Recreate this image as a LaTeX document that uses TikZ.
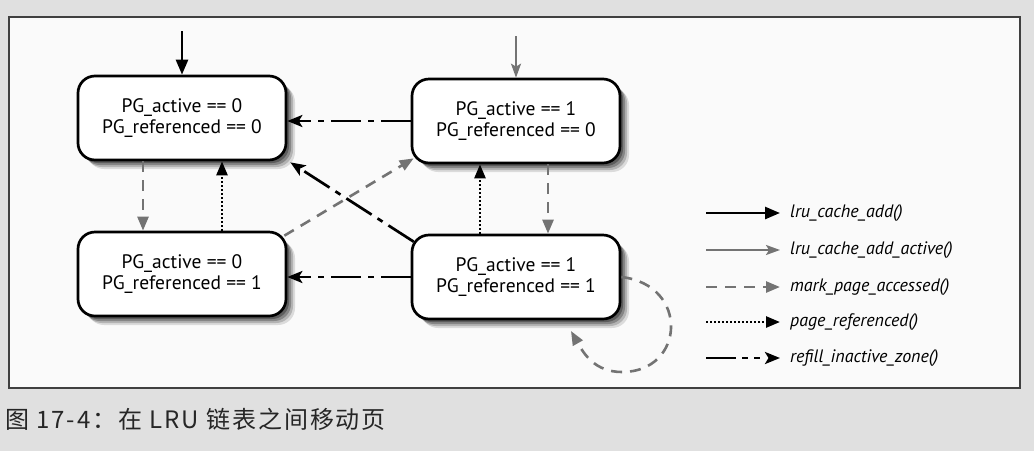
\documentclass[tikz,border=0pt]{standalone}
\usepackage{fontspec}
\setmainfont{PT Sans}
\newfontfamily\cjk{Noto Sans CJK SC}[LetterSpace=8]
\usetikzlibrary{arrows.meta,shadows}
\definecolor{midgray}{gray}{0.45}
\begin{document}
\begin{tikzpicture}[x=1pt,y=-1pt,
  pgstate/.style={draw=black, line width=2.7pt, rounded corners=17pt, fill=white,
    minimum width=208pt, minimum height=84pt, inner sep=0pt, align=center,
    font=\fontsize{19.5}{20.5}\selectfont,
    drop shadow={shadow xshift=9pt,shadow yshift=-9pt,fill=black,opacity=.12},
    drop shadow={shadow xshift=7pt,shadow yshift=-7pt,fill=black,opacity=.18},
    drop shadow={shadow xshift=5pt,shadow yshift=-5pt,fill=black,opacity=.25},
    drop shadow={shadow xshift=3pt,shadow yshift=-3pt,fill=black,opacity=.3}},
  blk/.style={line width=2.6pt, -{Triangle[length=15pt,width=12pt]}},
  gry/.style={line width=2pt, draw=midgray, -{Stealth[length=14pt,width=10pt,inset=3pt]}},
  gdash/.style={line width=2.6pt, draw=midgray, dash pattern=on 11pt off 8pt, -{Triangle[length=14pt,width=11pt]}},
  dotl/.style={line width=2.6pt, dash pattern=on 2pt off 2pt, -{Triangle[length=14pt,width=11pt]}},
  ddot/.style={line width=2.7pt, dash pattern=on 30pt off 7pt on 6pt off 7pt, -{Stealth[length=15pt,width=12pt,inset=3.5pt]}},
  ldd/.style={line width=2.7pt, dash pattern=on 30pt off 6pt on 6pt off 6pt on 6pt off 20pt, -{Stealth[length=15pt,width=12pt,inset=3.5pt]}},
  legtext/.style={anchor=west, inner sep=0pt, font=\itshape\fontsize{18}{18}\selectfont}]
% background and frame
\fill[black!12] (0,0) rectangle (1034,451);
\useasboundingbox (0,0) rectangle (1034,451);
\draw[line width=1.6pt, draw=black!75, fill=black!2] (9,17) rectangle (1020,388);
% states
\node[pgstate] (tl) at (182,118) {PG\_active == 0\\PG\_referenced == 0};
\node[pgstate] (tr) at (516,121) {PG\_active == 1\\PG\_referenced == 0};
\node[pgstate] (bl) at (182,274) {PG\_active == 0\\PG\_referenced == 1};
\node[pgstate] (br) at (516,277) {PG\_active == 1\\PG\_referenced == 1};
% incoming
\coordinate (intl) at (182,31);
\coordinate (intr) at (516,36);
\draw[blk] (intl) -- (tl.north);
\draw[gry] (intr) -- (tr.north);
% vertical
\draw[gdash] ([xshift=-39pt]tl.south) -- ([xshift=-39pt]bl.north);
\draw[dotl] ([xshift=40pt]bl.north) -- ([xshift=40pt]tl.south);
\draw[gdash] ([xshift=32pt]tr.south) -- ([xshift=32pt]br.north);
\draw[dotl] ([xshift=-36pt]br.north) -- ([xshift=-36pt]tr.south);
% horizontal
\draw[ddot] (tr.west) -- (tl.east |- tr.west);
\draw[ddot] (br.west) -- (bl.east |- br.west);
% diagonals
\draw[gdash] ([xshift=-3pt,yshift=-5pt]bl.north east) -- ([xshift=3pt,yshift=6pt]tr.south west);
\draw[ddot] ([xshift=3pt,yshift=-8pt]br.north west) -- ([xshift=3pt,yshift=-1pt]tl.south east);
% self loop
\coordinate (loopend) at (571,331);
\draw[gdash] (br.east) .. controls (690,285) and (685,372) .. (622,372)
  .. controls (595,372) and (584,354) .. (loopend);
% legend
\node[legtext] (l1) at (790,213) {lru\_cache\_add()};
\node[legtext] (l2) at (790,250) {lru\_cache\_add\_active()};
\node[legtext] (l3) at (790,287) {mark\_page\_accessed()};
\node[legtext] (l4) at (790,322) {page\_referenced()};
\node[legtext] (l5) at (790,358) {refill\_inactive\_zone()};
\coordinate (s1) at (706,213);
\coordinate (s2) at (706,250);
\coordinate (s3) at (706,287);
\coordinate (s4) at (706,322);
\coordinate (s5) at (706,358);
\draw[blk] (s1) -- ([xshift=-10pt]l1.west);
\draw[gry] (s2) -- ([xshift=-10pt]l2.west);
\draw[gdash] (s3) -- ([xshift=-10pt]l3.west);
\draw[dotl] (s4) -- ([xshift=-10pt]l4.west);
\draw[ldd] (s5) -- ([xshift=-10pt]l5.west);
% caption
\node[anchor=west, inner sep=0pt, text=black!85, font=\cjk\fontsize{24}{24}\selectfont] (cap) at (5,419) {图 17-4：在 LRU 链表之间移动页};
\end{tikzpicture}
\end{document}
